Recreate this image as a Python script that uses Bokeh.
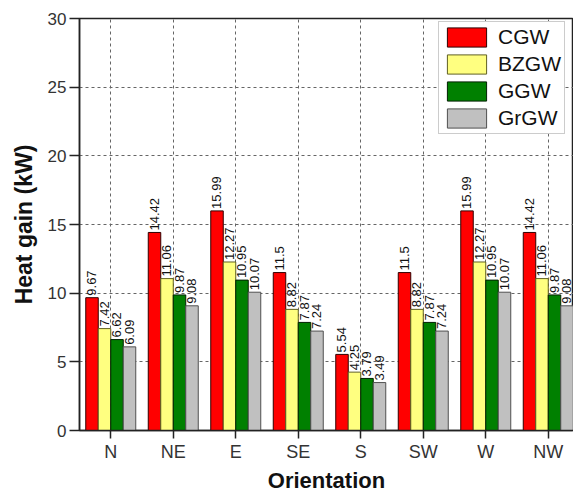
from bokeh.plotting import figure
from bokeh.models import ColumnDataSource, FixedTicker, Range1d, LabelSet
from bokeh.core.properties import value
from bokeh.transform import dodge
from bokeh.embed import file_html
from bokeh.resources import INLINE

categories = ["N", "NE", "E", "SE", "S", "SW", "W", "NW"]
series_names = ["CGW", "BZGW", "GGW", "GrGW"]
cgw = [9.67, 14.42, 15.99, 11.5, 5.54, 11.5, 15.99, 14.42]
bzgw = [7.42, 11.06, 12.27, 8.82, 4.25, 8.82, 12.27, 11.06]
ggw = [6.62, 9.87, 10.95, 7.87, 3.79, 7.87, 10.95, 9.87]
grgw = [6.09, 9.08, 10.07, 7.24, 3.49, 7.24, 10.07, 9.08]
cgw_labels = ["9.67", "14.42", "15.99", "11.5", "5.54", "11.5", "15.99", "14.42"]
bzgw_labels = ["7.42", "11.06", "12.27", "8.82", "4.25", "8.82", "12.27", "11.06"]
ggw_labels = ["6.62", "9.87", "10.95", "7.87", "3.79", "7.87", "10.95", "9.87"]
grgw_labels = ["6.09", "9.08", "10.07", "7.24", "3.49", "7.24", "10.07", "9.08"]
y_ticks = [0, 5, 10, 15, 20, 25, 30]

colors = ["#ff0000", "#ffff80", "#008000", "#c0c0c0"]
outlines = ["#300000", "#606020", "#002000", "#505050"]
offsets = [-0.3, -0.1, 0.1, 0.3]
values = [cgw, bzgw, ggw, grgw]
labels = [cgw_labels, bzgw_labels, ggw_labels, grgw_labels]

xs = list(range(len(categories)))

p = figure(width=573, height=496, output_backend="svg", toolbar_location=None,
           x_range=Range1d(-0.5, 7.404), y_range=Range1d(0, 30),
           min_border_left=79, min_border_right=0, min_border_top=18, min_border_bottom=66)
p.background_fill_color = "white"
p.border_fill_color = "white"
p.outline_line_color = "#222222"
p.outline_line_width = 1.5

FONT = "Liberation Sans"

for name, vals, labs, col, oc, off in zip(series_names, values, labels, colors, outlines, offsets):
    src = ColumnDataSource(dict(x=xs, top=vals, lab=labs))
    p.vbar(x=dodge("x", off), top="top", width=0.2, source=src, fill_color=col,
           line_color=oc, line_width=1, legend_label=name)
    ls = LabelSet(x=dodge("x", off), y="top", text="lab", source=src, angle=1.5708,
                  text_align="left", text_baseline="middle", x_offset=0, y_offset=2,
                  text_font=value(FONT), text_font_size=value("13px"),
                  text_color=value("#111111"))
    p.add_layout(ls)

p.xaxis.ticker = FixedTicker(ticks=xs)
p.xaxis.major_label_overrides = {i: c for i, c in enumerate(categories)}
p.yaxis.ticker = FixedTicker(ticks=y_ticks)

for ax in (p.xaxis, p.yaxis):
    ax.axis_line_color = "#222222"
    ax.axis_line_width = 1.5
    ax.major_tick_line_color = "#222222"
    ax.major_tick_line_width = 1.5
    ax.major_tick_in = 0
    ax.minor_tick_line_color = None
    ax.major_label_text_font = FONT
    ax.major_label_text_color = "#333333"
    ax.axis_label_text_font = FONT
    ax.axis_label_text_font_style = "bold"
    ax.axis_label_text_color = "#111111"

p.xaxis.major_tick_out = 8
p.yaxis.major_tick_out = 10
p.xaxis.major_label_text_font_size = "18px"
p.yaxis.major_label_text_font_size = "17px"
p.xaxis.axis_label_text_font_size = "22px"
p.yaxis.axis_label_text_font_size = "23px"
p.xaxis.axis_label = "Orientation"
p.yaxis.axis_label = "Heat gain (kW)"
p.xaxis.major_label_standoff = 3
p.yaxis.major_label_standoff = 3
p.xaxis.axis_label_standoff = 3
p.yaxis.axis_label_standoff = 8

p.xgrid.ticker = FixedTicker(ticks=xs)
for g in (p.xgrid, p.ygrid):
    g.grid_line_color = "#666666"
    g.grid_line_dash = "3 3"
    g.grid_line_width = 1

leg = p.legend[0]
leg.location = (359, 296)
leg.glyph_width = 49
leg.glyph_height = 24
leg.spacing = 3
leg.padding = 3
leg.margin = 0
leg.label_standoff = 7
leg.label_text_font = FONT
leg.label_text_font_size = "21px"
leg.label_text_color = "#111111"
leg.label_height = 24
leg.border_line_color = "#999999"
leg.border_line_width = 1.5
leg.background_fill_color = "white"
leg.background_fill_alpha = 1

open("out.html", "w").write(file_html(p, INLINE))
